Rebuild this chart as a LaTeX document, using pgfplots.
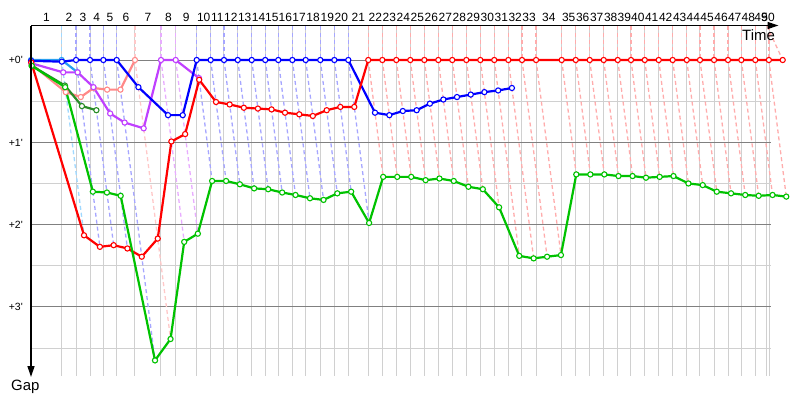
\documentclass[border=0pt]{standalone}
\usepackage{pgfplots}
\pgfplotsset{compat=1.18}
\usepackage{pgfplotstable}
\usetikzlibrary{arrows.meta}
\usepackage{fontspec}
\setmainfont{Liberation Sans}

\definecolor{cblue}{RGB}{0,0,255}
\definecolor{cred}{RGB}{255,0,0}
\definecolor{cgreen}{RGB}{0,194,0}
\definecolor{cviolet}{RGB}{192,64,255}
\definecolor{cpink}{RGB}{255,136,136}
\definecolor{ccyan}{RGB}{40,160,240}
\definecolor{cdkgreen}{RGB}{40,140,40}
\definecolor{dblue}{RGB}{166,166,255}
\definecolor{dred}{RGB}{255,172,172}
\definecolor{dcyan}{RGB}{160,216,255}
\definecolor{dpink}{RGB}{255,200,200}
\definecolor{dviolet}{RGB}{232,172,255}
\definecolor{gridlight}{RGB}{208,208,208}
\definecolor{griddark}{RGB}{128,128,128}

% lap, leader time T (s), gap of each car (s)
\pgfplotstableread{
lap T blue red green violet pink cyan dkgreen
0 0 0.01 0.03 0.07 0.04 0.05 0 0.07
1 2.92 0.02 2.13 0.33 0.15 0.39 0 0.31
2 4.29 0 2.27 1.60 0.15 0.45 0.15 0.56
3 5.62 0 2.25 1.61 0.33 0.34 nan 0.61
4 6.89 0 2.29 1.65 0.65 0.36 nan nan
5 8.16 0 2.39 3.65 0.76 0.36 nan nan
6 9.90 0.33 2.17 3.39 0.83 0 nan nan
7 12.38 0.67 0.99 2.21 0 nan nan nan
8 13.78 0.67 0.90 2.11 0 nan nan nan
9 15.78 0 0.24 1.47 0.22 nan nan nan
10 17.11 0 0.51 1.47 nan nan nan nan
11 18.38 0 0.54 1.51 nan nan nan nan
12 19.69 0 0.58 1.56 nan nan nan nan
13 21.02 0 0.59 1.57 nan nan nan nan
14 22.31 0 0.60 1.61 nan nan nan nan
15 23.55 0 0.64 1.64 nan nan nan nan
16 24.89 0 0.66 1.68 nan nan nan nan
17 26.16 0 0.68 1.70 nan nan nan nan
18 27.55 0 0.61 1.62 nan nan nan nan
19 28.89 0 0.57 1.60 nan nan nan nan
20 30.22 0 0.57 1.98 nan nan nan nan
21 32.12 0.64 0 1.42 nan nan nan nan
22 33.46 0.67 0 1.42 nan nan nan nan
23 34.79 0.62 0 1.42 nan nan nan nan
24 36.12 0.61 0 1.46 nan nan nan nan
25 37.46 0.53 0 1.44 nan nan nan nan
26 38.79 0.48 0 1.47 nan nan nan nan
27 40.12 0.45 0 1.54 nan nan nan nan
28 41.46 0.42 0 1.57 nan nan nan nan
29 42.79 0.39 0 1.79 nan nan nan nan
30 44.12 0.37 0 2.38 nan nan nan nan
31 45.46 0.34 0 2.41 nan nan nan nan
32 46.76 nan 0 2.39 nan nan nan nan
33 48.10 nan 0 2.37 nan nan nan nan
34 50.54 nan 0 1.39 nan nan nan nan
35 51.88 nan 0 1.39 nan nan nan nan
36 53.21 nan 0 1.39 nan nan nan nan
37 54.54 nan 0 1.41 nan nan nan nan
38 55.88 nan 0 1.41 nan nan nan nan
39 57.14 nan 0 1.43 nan nan nan nan
40 58.45 nan 0 1.42 nan nan nan nan
41 59.78 nan 0 1.41 nan nan nan nan
42 61.11 nan 0 1.50 nan nan nan nan
43 62.45 nan 0 1.52 nan nan nan nan
44 63.71 nan 0 1.60 nan nan nan nan
45 65.05 nan 0 1.62 nan nan nan nan
46 66.38 nan 0 1.64 nan nan nan nan
47 67.65 nan 0 1.65 nan nan nan nan
48 68.98 nan 0 1.64 nan nan nan nan
49 70.27 nan 0 1.66 nan nan nan nan
50 71.59 nan 0 nan nan nan nan nan
}\laps

% leader time and gap of last car, by leader colour
\pgfplotstableread{
T g
2.92 2.13
}\dashcyan
\pgfplotstableread{
T g
4.29 2.27
5.62 2.25
6.89 2.29
8.16 3.65
15.78 1.47
17.11 1.47
18.38 1.51
19.69 1.56
21.02 1.57
22.31 1.61
23.55 1.64
24.89 1.68
26.16 1.70
27.55 1.62
28.89 1.60
30.22 1.98
}\dashblue
\pgfplotstableread{
T g
9.90 3.39
}\dashpink
\pgfplotstableread{
T g
12.38 2.21
13.78 2.11
}\dashviolet
\pgfplotstableread{
T g
32.12 1.42
33.46 1.42
34.79 1.42
36.12 1.46
37.46 1.44
38.79 1.47
40.12 1.54
41.46 1.57
42.79 1.79
44.12 2.38
45.46 2.41
46.76 2.39
48.10 2.37
50.54 1.39
51.88 1.39
53.21 1.39
54.54 1.41
55.88 1.41
57.14 1.43
58.45 1.42
59.78 1.41
61.11 1.50
62.45 1.52
63.71 1.60
65.05 1.62
66.38 1.64
67.65 1.65
68.98 1.64
70.27 1.66
}\dashred

\tikzset{
  car/.style={color=#1, line width=2.2bp, mark=*, mark size=2.6bp,
    mark options={fill=white, draw=#1, line width=1.1bp, solid}},
  dsh/.style={color=#1, line width=1.3bp, dash pattern=on 4bp off 3bp, no markers},
}

\begin{document}
\begin{tikzpicture}
\begin{axis}[
  x=10.5bp, y=82.3bp, y dir=reverse,
  xmin=0, xmax=70.45, ymin=-0.419, ymax=3.84,
  clip=false,
  axis line style={draw=none},
  tick style={draw=none}, major tick length=0pt, minor tick length=0pt,
  xtick={2.92,4.29,5.62,6.89,8.16,9.90,12.38,13.78,15.78,17.11,18.38,19.69,21.02,22.31,23.55,24.89,26.16,27.55,28.89,30.22,32.12,33.46,34.79,36.12,37.46,38.79,40.12,41.46,42.79,44.12,45.46,46.76,48.10,50.54,51.88,53.21,54.54,55.88,57.14,58.45,59.78,61.11,62.45,63.71,65.05,66.38,67.65,68.98,70.07,70.31},
  ytick={0.5,1.5,2.5,3.5},
  xticklabel=\empty, yticklabel=\empty,
  grid=major, major grid style={draw=gridlight, line width=1bp},
  extra y ticks={0,1,2,3}, extra y tick labels={},
  extra y tick style={grid=major, major grid style={draw=griddark, line width=1bp}},
]
\coordinate (O) at (axis cs:0,0);

% leader laps: up to the top, then on to the last car
\addplot[dsh=dcyan, quiver={u=0, v=0.419}] table[x=T, y expr=-0.419] {\dashcyan};
\addplot[dsh=dcyan, quiver={u=\thisrow{g}, v=\thisrow{g}}] table[x=T, y expr=0] {\dashcyan};
\addplot[dsh=dblue, quiver={u=0, v=0.419}] table[x=T, y expr=-0.419] {\dashblue};
\addplot[dsh=dblue, quiver={u=\thisrow{g}, v=\thisrow{g}}] table[x=T, y expr=0] {\dashblue};
\addplot[dsh=dpink, quiver={u=0, v=0.419}] table[x=T, y expr=-0.419] {\dashpink};
\addplot[dsh=dpink, quiver={u=\thisrow{g}, v=\thisrow{g}}] table[x=T, y expr=0] {\dashpink};
\addplot[dsh=dviolet, quiver={u=0, v=0.419}] table[x=T, y expr=-0.419] {\dashviolet};
\addplot[dsh=dviolet, quiver={u=\thisrow{g}, v=\thisrow{g}}] table[x=T, y expr=0] {\dashviolet};
\addplot[dsh=dred, quiver={u=0, v=0.419}] table[x=T, y expr=-0.419] {\dashred};
\addplot[dsh=dred, quiver={u=\thisrow{g}, v=\thisrow{g}}] table[x=T, y expr=0] {\dashred};
\addplot[dsh=dred] coordinates {(70.07,-0.419) (71.59,0)};

% cars: x = leader time + gap, y = gap
\addplot[car=ccyan] table[x expr=\thisrow{T}+\thisrow{cyan}, y=cyan] {\laps};
\addplot[car=cpink] table[x expr=\thisrow{T}+\thisrow{pink}, y=pink] {\laps};
\addplot[car=cdkgreen] table[x expr=\thisrow{T}+\thisrow{dkgreen}, y=dkgreen] {\laps};
\addplot[car=cviolet] table[x expr=\thisrow{T}+\thisrow{violet}, y=violet] {\laps};
\addplot[car=cblue] table[x expr=\thisrow{T}+\thisrow{blue}, y=blue] {\laps};
\addplot[car=cred] table[x expr=\thisrow{T}+\thisrow{red}, y=red] {\laps};
\addplot[car=cgreen] table[x expr=\thisrow{T}+\thisrow{green}, y=green] {\laps};
\end{axis}

\begin{scope}[shift={(O)}, x=1bp, y=-1bp, shift={(-31,-60)}]
  \draw[line width=1.3bp, -{Triangle[length=11bp,width=7bp]}] (31,25.5) -- (778.5,25.5);
  \draw[line width=1.3bp, -{Triangle[length=11bp,width=7bp]}] (31,25.5) -- (31,377);
  \foreach \p/\l in {46.35/1,68.85/2,83/3,96.65/4,110/5,125.85/6,148/7,168.35/8,186.2/9,203.7/10,217.35/11,230.85/12,244.7/13,258.5/14,271.8/15,285.3/16,299/17,313/18,327.3/19,341.3/20,358.3/21,375.3/22,389.3/23,403.3/24,417.3/25,431.3/26,445.3/27,459.3/28,473.3/29,487.3/30,501.3/31,515.15/32,529/33,548.85/34,568.7/35,582.7/36,596.7/37,610.7/38,624.35/39,637.85/40,651.7/41,665.7/42,679.7/43,693.35/44,707/45,721/46,734.65/47,748.3/48,761/49,768/50}
    \node[inner sep=0, font=\fontsize{12}{14}\selectfont] at (\p,17.5) {\l};
  \foreach \v/\l in {60/0,142.3/1,224.6/2,306.9/3}
    \node[inner sep=0, anchor=base east, font=\fontsize{10.5}{12}\selectfont] at (23,\v+3.8) {+\l\textquotesingle};
  \node[inner sep=0, anchor=base west, font=\fontsize{15}{18}\selectfont] at (742,40) {Time};
  \node[inner sep=0, anchor=base west, font=\fontsize{15}{18}\selectfont] at (11,390) {Gap};
\end{scope}
\pgfresetboundingbox
\begin{scope}[shift={(O)}, x=1bp, y=-1bp, shift={(-31,-60)}]
  \path[use as bounding box] (0,0) rectangle (800,400);
\end{scope}
\end{tikzpicture}
\end{document}
